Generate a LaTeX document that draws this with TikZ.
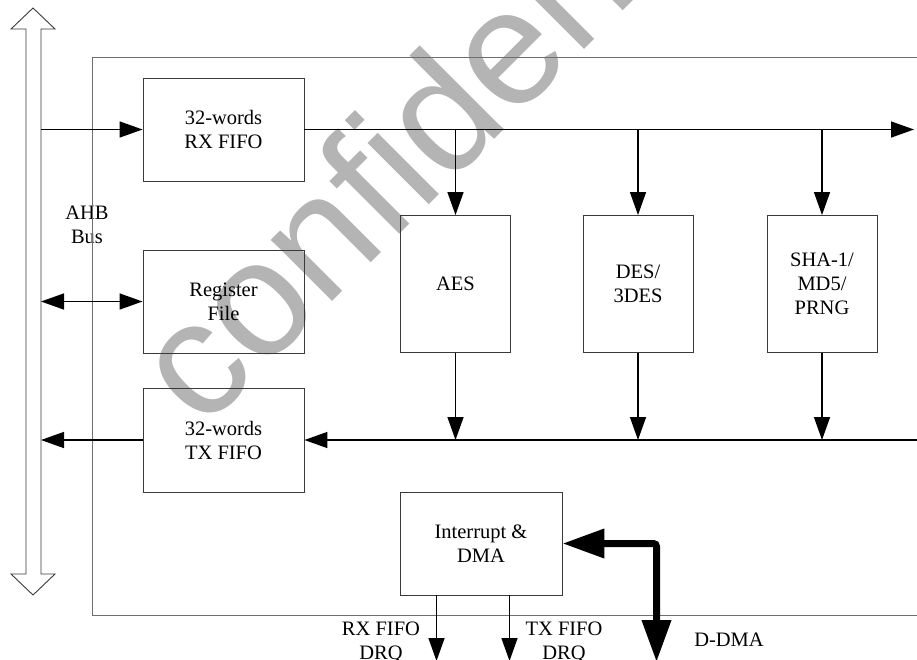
\documentclass[tikz,border=0pt]{standalone}
\usepackage{fontspec}
\setmainfont{Liberation Serif}
\newfontfamily\wmfont{Liberation Sans}
\usetikzlibrary{arrows.meta}
\definecolor{BoxLine}{HTML}{3A3A3A}
\definecolor{FrameLine}{HTML}{6E6E6E}
\definecolor{WmGray}{HTML}{B4B4B4}
\begin{document}
\begin{tikzpicture}[x=1pt,y=-1pt,
    blk/.style={draw=BoxLine,line width=0.9pt,align=center,inner sep=0pt,
                font=\fontsize{20.5}{24}\selectfont},
    lbl/.style={align=center,inner sep=0pt,font=\fontsize{20.5}{24}\selectfont},
    wire/.style={black,line width=1.4pt},
    >={Triangle[length=23pt,width=16pt]}]
  \useasboundingbox (0,0) rectangle (917,659);
  % watermark
  \node[rotate=45,anchor=base west,inner sep=0pt,text=WmGray,
        font=\wmfont\fontsize{164}{164}\selectfont] (wm) at (202,432) {confidential};
  % AHB bus
  \draw[BoxLine,line width=0.9pt,fill=white]
    (26,29) -- (11,29) -- (33,8) -- (55,29) -- (41,29) -- (41,574)
    -- (55,574) -- (33,595) -- (11,574) -- (26,574) -- cycle;
  \node[lbl] (ahb) at (87,225) {AHB\\Bus};
  % frame
  \draw[FrameLine,line width=1pt] (917,57) -- (92,57) -- (92,615) -- (917,615);
  % blocks
  \node[blk,minimum width=161,minimum height=103] (rxfifo) at (223.5,129.5) {32-words\\RX FIFO};
  \node[blk,minimum width=161,minimum height=103] (regfile) at (223.5,301.5) {Register\\File};
  \node[blk,minimum width=161,minimum height=104] (txfifo) at (223.5,440) {32-words\\TX FIFO};
  \node[blk,minimum width=162,minimum height=103] (irq) at (481,543.5) {Interrupt \&\\DMA};
  \foreach \x/\nm/\lab in {455.5/aes/{AES}, 638/des/{DES/\\3DES},
                           822/sha/{SHA-1/\\MD5/\\PRNG}} {
    \node[blk,minimum width=110,minimum height=137] (\nm) at (\x,284) {\lab};
    \draw[wire,->] (\nm.north |- rxfifo.east) -- (\nm.north);
    \draw[wire,->] (\nm.south) -- (\nm.south |- txfifo.east);
  }
  % bus ends
  \coordinate (rxin) at (41,129.5);
  \coordinate (rxout) at (914,129.5);
  \coordinate (regin) at (41,301.5);
  \coordinate (txin) at (917,440);
  \coordinate (txout) at (41,440);
  \coordinate (rxdrq) at (436.5,661);
  \coordinate (txdrq) at (509.5,661);
  \coordinate (ddma) at (656.5,662);
  \draw[wire,->] (rxin) -- (rxfifo.west);
  \draw[wire,->] (rxfifo.east) -- (rxout);
  \draw[wire,<->] (regin) -- (regfile.west);
  \draw[wire,->] (txin) -- (txfifo.east);
  \draw[wire,->] (txfifo.west) -- (txout);
  \draw[wire,->] (rxdrq |- irq.south) -- (rxdrq);
  \draw[wire,->] (txdrq |- irq.south) -- (txdrq);
  \draw[black,line width=7pt,rounded corners=3pt,
        <->,>={Triangle[length=42pt,width=28pt]}]
    (irq.east) -- (ddma |- irq.east) -- (ddma);
  % bottom labels
  \node[lbl] (rxdrql) at (381,642) {RX FIFO\\DRQ};
  \node[lbl] (txdrql) at (564,642) {TX FIFO\\DRQ};
  \node[lbl] (ddmal) at (729,640) {D-DMA};
\end{tikzpicture}
\end{document}
